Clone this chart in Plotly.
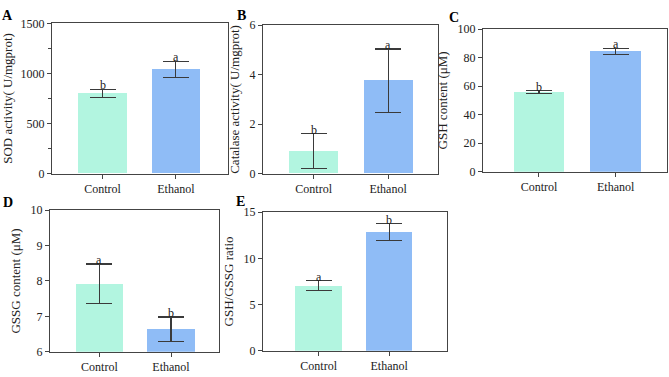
import plotly.graph_objects as go

categories = ["Control", "Ethanol"]

sod_mean = [800, 1040]
sod_err = [43, 80]
sod_letters = ["b", "a"]

cat_mean = [0.92, 3.76]
cat_err = [0.70, 1.28]
cat_letters = ["b", "a"]

gsh_mean = [55.8, 84.5]
gsh_err = [1.0, 2.2]
gsh_letters = ["b", "a"]

gssg_mean = [7.92, 6.64]
gssg_err = [0.56, 0.34]
gssg_letters = ["a", "b"]

ratio_mean = [7.02, 12.8]
ratio_err = [0.54, 0.92]
ratio_letters = ["a", "b"]

bar_colors = ["#b2f5e0", "#8fbcf6"]
W, H = 669, 377
FONT = "Liberation Serif, Times New Roman, serif"
AX = "#444444"

panels = [
    dict(letter="A", mean=sod_mean, err=sod_err, lets=sod_letters, title="SOD activity( U/mgprot)",
         box=(52, 228, 17, 173), yr=[0, 1500], dtick=500, minor=True, xr=[-0.69, 1.71], lpos=(7, 9)),
    dict(letter="B", mean=cat_mean, err=cat_err, lets=cat_letters, title="Catalase activity( U/mgprot)",
         box=(263, 438, 19, 173), yr=[0, 6], dtick=2, minor=False, xr=[-0.68, 1.67], lpos=(241, 9)),
    dict(letter="C", mean=gsh_mean, err=gsh_err, lets=gsh_letters, title="GSH content (μM)",
         box=(483, 667, 23, 171), yr=[0, 100], dtick=20, minor=False, xr=[-0.73, 1.67], lpos=(454, 11)),
    dict(letter="D", mean=gssg_mean, err=gssg_err, lets=gssg_letters, title="GSSG content (μM)",
         box=(50, 219, 211, 358), yr=[6, 10], dtick=1, minor=False, xr=[-0.69, 1.67], lpos=(8, 203)),
    dict(letter="E", mean=ratio_mean, err=ratio_err, lets=ratio_letters, title="GSH/GSSG ratio",
         box=(263, 447, 213, 357), yr=[0, 15], dtick=5, minor=False, xr=[-0.79, 1.82], lpos=(240, 202)),
]

fig = go.Figure()
annotations = []
layout = {}
for i, p in enumerate(panels):
    n = "" if i == 0 else str(i + 1)
    xa, ya = "x" + n, "y" + n
    fig.add_trace(go.Bar(
        x=[0, 1], y=p["mean"], xaxis=xa, yaxis=ya, width=0.66,
        marker=dict(color=bar_colors, line=dict(width=0)),
        error_y=dict(type="data", array=p["err"], visible=True, color="#3a3a3a", thickness=1.1, width=13),
        showlegend=False,
    ))
    x0, x1, t, b = p["box"]
    axis_common = dict(showline=True, linecolor=AX, linewidth=1.2, mirror=True, ticks="outside",
                       ticklen=4, tickwidth=1.2, tickcolor=AX, showgrid=False, zeroline=False,
                       tickfont=dict(family=FONT, size=12, color="#222"))
    layout["xaxis" + n] = dict(axis_common, domain=[x0 / W, x1 / W], anchor=ya, range=p["xr"],
                               tickvals=[0, 1], ticktext=categories)
    yax = dict(axis_common, domain=[1 - b / H, 1 - t / H], anchor=xa, range=p["yr"], dtick=p["dtick"],
               tick0=p["yr"][0],
               title=dict(text=p["title"], font=dict(family=FONT, size=13, color="#222"), standoff=6))
    if p["minor"]:
        yax["minor"] = dict(ticks="outside", ticklen=3, tickwidth=1.2, tickcolor=AX, dtick=p["dtick"] / 2)
    layout["yaxis" + n] = yax
    for j in range(2):
        annotations.append(dict(x=j, y=p["mean"][j] + p["err"][j], xref=xa, yref=ya, text=p["lets"][j],
                                showarrow=False, yanchor="bottom", yshift=-5,
                                font=dict(family=FONT, size=12, color="#222")))
    annotations.append(dict(x=p["lpos"][0] / W, y=1 - p["lpos"][1] / H, xref="paper", yref="paper",
                            text="<b>" + p["letter"] + "</b>", showarrow=False, xanchor="center",
                            yanchor="middle", borderpad=0,
                            font=dict(family=FONT, size=14, color="#000")))

fig.update_layout(width=W, height=H, margin=dict(l=0, r=0, t=0, b=0), plot_bgcolor="white",
                  paper_bgcolor="white", annotations=annotations, bargap=0, **layout)
fig.write_html("out.html")
